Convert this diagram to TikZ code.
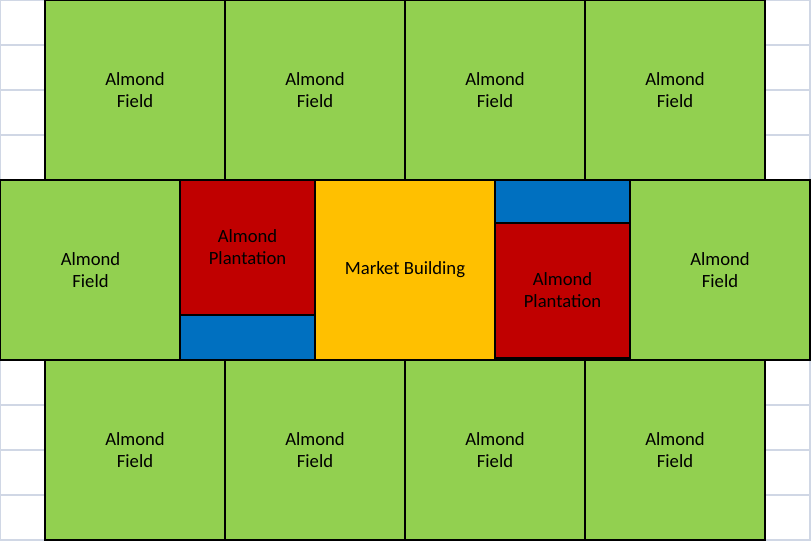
\documentclass[tikz,border=0pt]{standalone}
\usepackage{fontspec}
\setmainfont{Carlito}
\definecolor{fieldgreen}{HTML}{92D050}
\definecolor{plantred}{HTML}{C00000}
\definecolor{waterblue}{HTML}{0070C0}
\definecolor{marketyellow}{HTML}{FFC000}
\definecolor{gridgray}{HTML}{D0D7E5}
\begin{document}
\begin{tikzpicture}[x=0.75pt,y=-0.75pt,
  plot/.style={draw=black,line width=1pt,inner sep=0pt,outer sep=0pt,align=center,
    font=\fontsize{14}{16.5}\selectfont,text=black},
  field/.style={plot,fill=fieldgreen,minimum width=135pt,minimum height=135pt},
  plantation/.style={plot,fill=plantred,minimum width=101.25pt,minimum height=101.25pt},
  pond/.style={plot,fill=waterblue,minimum width=101.25pt,minimum height=33.75pt},
  market/.style={plot,fill=marketyellow,minimum width=135pt,minimum height=135pt},
  gridline/.style={draw=gridgray,line width=1pt}]
\useasboundingbox (0,0) rectangle (811,541);
\fill[white] (0,0) rectangle (811,541);
% spreadsheet gridlines in the margins
\foreach \yy in {0,45,90,135,405,450,495,540} {
  \draw[gridline] (0,\yy) -- (45,\yy);
  \draw[gridline] (765,\yy) -- (811,\yy);
}
\draw[gridline] (0.5,0) -- (0.5,180);
\draw[gridline] (0.5,360) -- (0.5,541);
\draw[gridline] (810,0) -- (810,180);
\draw[gridline] (810,360) -- (810,541);
% top row
\node[field] (t1) at (135,90) {Almond\\Field};
\node[field] (t2) at (315,90) {Almond\\Field};
\node[field] (t3) at (495,90) {Almond\\Field};
\node[field] (t4) at (675,90) {Almond\\Field};
% bottom row
\node[field] (b1) at (135,450) {Almond\\Field};
\node[field] (b2) at (315,450) {Almond\\Field};
\node[field] (b3) at (495,450) {Almond\\Field};
\node[field] (b4) at (675,450) {Almond\\Field};
% middle row
\node[field] (ml) at (90.5,270) {Almond\\Field};
\node[plantation] (pl) at (247.5,247.5) {Almond\\Plantation};
\node[pond] (wl) at (247.5,337.5) {};
\node[market] (mk) at (405,270) {Market Building};
\node[pond] (wr) at (562.5,202.5) {};
\node[plantation] (pr) at (562.5,290.5) {Almond\\Plantation};
\node[field] (mr) at (720,270) {Almond\\Field};
\end{tikzpicture}
\end{document}
